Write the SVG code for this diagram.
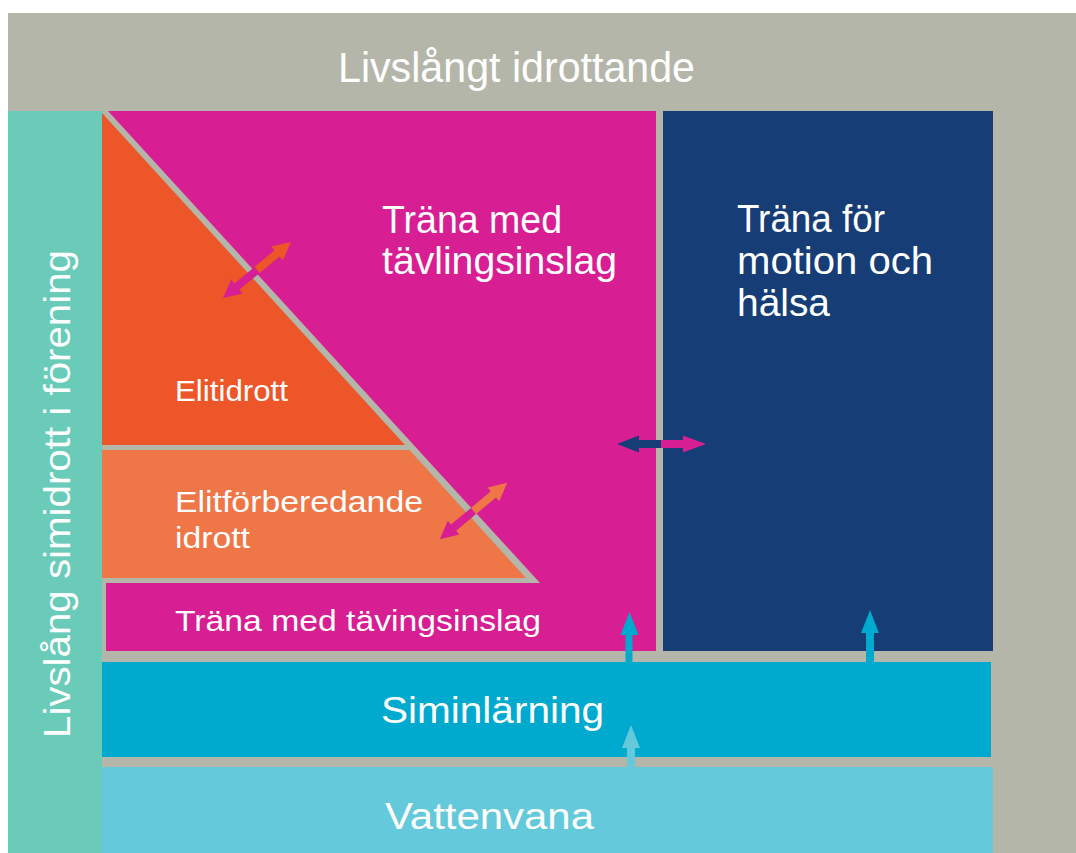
<svg xmlns="http://www.w3.org/2000/svg" width="1076" height="853" viewBox="0 0 1076 853">
<style>
.t{font-family:"Liberation Sans",Arial,sans-serif;fill:#ffffff;}
.gray{fill:#B5B6AA;}
</style>
<rect width="1076" height="853" fill="#ffffff"/>
<g id="frame"><rect x="8" y="13" width="1068" height="840" class="gray"/></g>
<g id="header"><text class="t" x="338" y="82" font-size="42" textLength="357" lengthAdjust="spacingAndGlyphs">Livslångt idrottande</text></g>
<g id="livslang-simidrott">
<rect x="8" y="111" width="94" height="742" fill="#69CBB8"/>
<text class="t" transform="translate(70,738) rotate(-90)" x="0" y="0" font-size="37" textLength="488" lengthAdjust="spacingAndGlyphs">Livslång simidrott i förening</text>
</g>
<g id="trana-tavling">
<rect x="102" y="111" width="554" height="540" fill="#D71E92"/>
<text class="t" x="382" y="233" font-size="38" textLength="180" lengthAdjust="spacingAndGlyphs">Träna med</text>
<text class="t" x="382" y="274" font-size="38" textLength="235" lengthAdjust="spacingAndGlyphs">tävlingsinslag</text>
</g>
<g id="pyramid-border"><polygon class="gray" points="102,111 108,111 540,583 102,583"/><rect class="gray" x="102" y="583" width="4" height="68"/></g>
<g id="elitidrott">
<polygon points="102,113 405,445 102,445" fill="#EC5628"/>
<text class="t" x="175" y="401" font-size="29" textLength="113" lengthAdjust="spacingAndGlyphs">Elitidrott</text>
</g>
<g id="elitforberedande">
<polygon points="102,450 409.5,450 526,578 102,578" fill="#EF7646"/>
<text class="t" x="175" y="512" font-size="29" textLength="248" lengthAdjust="spacingAndGlyphs">Elitförberedande</text>
<text class="t" x="175" y="548" font-size="29" textLength="75" lengthAdjust="spacingAndGlyphs">idrott</text>
</g>
<g id="trana-tavings-strip">
<text class="t" x="175" y="631" font-size="29" textLength="366" lengthAdjust="spacingAndGlyphs">Träna med tävingsinslag</text>
</g>
<g id="motion-halsa">
<rect x="663" y="111" width="330" height="540" fill="#173D77"/>
<text class="t" x="737" y="232" font-size="38" textLength="148" lengthAdjust="spacingAndGlyphs">Träna för</text>
<text class="t" x="737" y="274" font-size="38" textLength="196" lengthAdjust="spacingAndGlyphs">motion och</text>
<text class="t" x="737" y="316" font-size="38" textLength="93" lengthAdjust="spacingAndGlyphs">hälsa</text>
</g>
<g id="siminlarning">
<rect x="102" y="662" width="889" height="95" fill="#00A9CE"/>
<text class="t" x="381" y="723" font-size="37" textLength="223" lengthAdjust="spacingAndGlyphs">Siminlärning</text>
</g>
<g id="vattenvana">
<rect x="102" y="767" width="891" height="86" fill="#64C9DB"/>
<text class="t" x="385" y="829" font-size="37" textLength="209" lengthAdjust="spacingAndGlyphs">Vattenvana</text>
</g>
<g id="connectors">
<g transform="translate(257,270) rotate(-39.5)">
<polygon points="0,-4 26,-4 26,-9 44,0 26,9 26,4 0,4" fill="#EC5628"/>
<polygon points="0,-4 -26,-4 -26,-9 -44,0 -26,9 -26,4 0,4" fill="#D71E92"/>
</g>
<g transform="translate(473.5,511) rotate(-39.9)">
<polygon points="0,-4 26,-4 26,-9 44,0 26,9 26,4 0,4" fill="#EF7646"/>
<polygon points="0,-4 -26,-4 -26,-9 -44,0 -26,9 -26,4 0,4" fill="#D71E92"/>
</g>
<g transform="translate(661,444)">
<polygon points="0,-4 22,-4 22,-8.5 45,0 22,8.5 22,4 0,4" fill="#D71E92"/>
<polygon points="0,-4 -22,-4 -22,-8.5 -44,0 -22,8.5 -22,4 0,4" fill="#173D77"/>
</g>
<polygon points="625.5,662 625.5,635 620.5,635 629.5,612 638.5,635 632.5,635 632.5,662" fill="#00A9CE"/>
<polygon points="866,662 866,633 861,633 870,610 879,633 874,633 874,662" fill="#00A9CE"/>
<polygon points="627,767 627,748 622,748 631,725 640,748 635,748 635,767" fill="#64C9DB"/>
</g>
</svg>
